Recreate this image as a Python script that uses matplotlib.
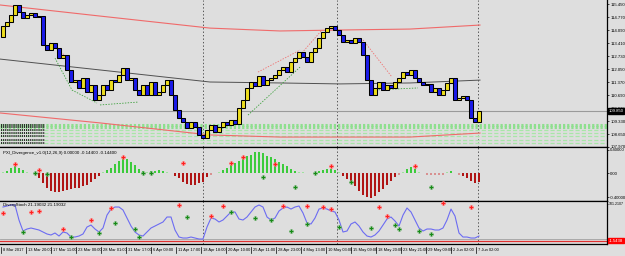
import matplotlib
matplotlib.use("Agg")
import matplotlib.pyplot as plt
import matplotlib.transforms as mtransforms
import numpy as np

plt.rcParams["font.family"] = ["Liberation Sans", "DejaVu Sans"]
plt.rcParams["lines.scale_dashes"] = False

# price bars (close of each bar, open = previous close)
first_open = 113.75
closes = [114.30, 114.51, 114.87, 115.40, 115.03, 114.72, 114.87, 114.98, 114.77, 114.82,
          113.31, 113.04, 113.41, 113.15, 112.63, 112.78, 112.00, 111.37, 111.47, 111.06,
          111.58, 110.85, 111.21, 110.43, 110.69, 111.21, 110.95, 111.47, 111.37, 111.74,
          112.10, 111.47, 111.58, 110.95, 110.69, 111.21, 110.69, 111.37, 110.69, 110.85,
          111.21, 111.47, 110.69, 109.90, 109.49, 109.28, 108.96, 109.28, 109.02, 108.60,
          108.44, 108.86, 109.12, 108.75, 109.02, 109.28, 109.12, 109.38, 109.17, 110.01,
          110.43, 111.06, 111.37, 111.16, 111.68, 111.21, 111.47, 111.58, 111.74, 112.00,
          112.15, 111.89, 112.42, 112.63, 112.94, 112.68, 112.42, 112.94, 113.15, 113.67,
          113.99, 114.19, 114.30, 114.09, 113.83, 113.46, 113.57, 113.41, 113.67, 113.46,
          112.78, 111.47, 110.69, 111.06, 111.37, 110.95, 111.21, 111.06, 111.37, 111.58,
          111.89, 111.74, 112.00, 111.58, 111.37, 111.21, 111.27, 110.85, 111.06, 110.69,
          110.95, 111.32, 111.58, 110.43, 110.53, 110.64, 110.43, 109.49, 109.28, 109.85]

# channel lines on the price chart
chan_x = [-0.75, 24.25, 51.75, 69.25, 84.25, 101.75, 119.25]
chan_upper = [115.40, 114.82, 114.19, 114.04, 114.09, 114.14, 114.35]
chan_mid = [112.57, 112.00, 111.37, 111.32, 111.27, 111.32, 111.47]
chan_lower = [109.75, 109.23, 108.60, 108.49, 108.49, 108.49, 108.70]

# divergence trend lines drawn on price
red_div_lines = [([11.75, 16.25], [113.41, 112.62]),
                 ([63.75, 74.25], [111.89, 113.04]),
                 ([74.25, 79.75], [112.78, 114.09]),
                 ([90.0, 97.25], [113.57, 111.63])]
green_div_lines = [([13.0, 17.25, 23.5], [112.62, 110.95, 110.27]),
                   ([24.25, 33.75], [110.17, 110.32]),
                   ([61.25, 74.25], [109.64, 112.15]),
                   ([92.5, 103.75], [110.95, 111.06])]

green_band_levels = [109.12, 109.00, 108.84, 108.68, 108.52, 108.36, 108.20]

price_ticks = [115.450, 114.770, 114.090, 113.410, 112.730, 112.050,
               111.370, 110.690, 110.010, 109.330, 108.650, 107.970]
last_price = 109.85

# PXI divergence histogram
hist_vals = [0.02, 0.05, 0.09, 0.13, 0.10, 0.06, 0.03, 0.01, -0.02, -0.08,
             -0.16, -0.24, -0.29, -0.32, -0.31, -0.30, -0.28, -0.27, -0.25, -0.24,
             -0.22, -0.19, -0.15, -0.10, -0.05, 0.02, 0.06, 0.10, 0.16, 0.22,
             0.26, 0.24, 0.20, 0.14, 0.08, 0.04, 0.03, 0.04, 0.05, 0.06,
             0.04, 0.02, 0.01, -0.04, -0.08, -0.14, -0.18, -0.20, -0.19, -0.17,
             -0.14, -0.06, -0.02, 0.01, 0.03, 0.06, 0.10, 0.14, 0.18, 0.22,
             0.26, 0.30, 0.32, 0.36, 0.37, 0.34, 0.30, 0.28, 0.24, 0.20,
             0.16, 0.12, 0.08, 0.05, 0.03, 0.02, 0.01, 0.01, 0.01, 0.04,
             0.06, 0.07, 0.08, 0.06, 0.02, -0.04, -0.10, -0.16, -0.22, -0.30,
             -0.36, -0.40, -0.42, -0.38, -0.32, -0.26, -0.20, -0.13, -0.06, -0.02,
             0.03, 0.08, 0.11, 0.07, 0.03, 0.01, -0.02, -0.03, -0.03, -0.02,
             -0.02, 0.02, 0.04, 0.01, -0.02, -0.04, -0.08, -0.12, -0.16, -0.14]
div_red_idx = [3, 9, 30, 45, 57, 60, 68, 82, 103]
div_red_val = [0.16, 0.06, 0.28, 0.18, 0.18, 0.28, 0.16, 0.13, 0.13]
div_green_idx = [8, 11, 35, 37, 65, 73, 78, 87, 107]
div_green_val = [0.01, -0.01, 0.01, 0.01, -0.06, -0.23, 0.01, -0.14, -0.23]

# DivergStoch
stoch_vals = [92.7, 95.5, 98.4, 98.4, 56, 25.3, 30.9, 33.7, 30.9, 28.1,
              22.5, 16.9, 14.1, 19.7, 11.2, 22.5, 19.7, 8.4, 8.4, 11.2,
              16.9, 36.5, 42, 30.9, 22.5, 33.7, 70, 87, 92.7, 92.7,
              84.3, 61.8, 39.3, 22.5, 14.1, 11.2, 22.5, 33.7, 39.3, 45,
              50.6, 64.6, 64.6, 28.1, 8.4, 5.6, 5.6, 8.4, 5.6, 2.8,
              2.8, 36.5, 61.8, 59, 50.6, 56.2, 67.4, 78.7, 78.7, 59,
              56.2, 64.6, 78.7, 92.7, 98.4, 92.7, 64.6, 56.2, 61.8, 81.5,
              89.9, 92.7, 87, 92.7, 95.5, 75.9, 47.8, 45, 61.8, 87,
              89.9, 87, 81.5, 78.7, 56.2, 22.5, 25.3, 45, 50.6, 39.3,
              22.5, 11.2, 8.4, 14.1, 25.3, 42, 59, 64.6, 53.4, 39.3,
              70, 89.9, 78.7, 56.2, 33.7, 25.3, 30.9, 30.9, 28.1, 28.1,
              33.7, 56.2, 87, 67.4, 19.7, 8.4, 8.4, 5.6, 5.6, 11.2]
st_red_idx = [0, 7, 9, 15, 22, 27, 44, 52, 55, 70, 76, 80, 82, 94, 96, 110, 117]
st_red_val = [75.9, 78.7, 81.5, 30.9, 56.2, 89.9, 98.4, 67.4, 95.5, 95.5, 95.5, 92.7, 87, 92.7, 67.4, 104, 92.7]
st_green_idx = [5, 17, 24, 28, 33, 34, 46, 57, 63, 67, 72, 76, 84, 92, 98, 99, 104, 107]
st_green_val = [22.5, 8.4, 19.7, 47.8, 30.9, 8.4, 64.6, 78.7, 61.8, 56.2, 25.3, 45, 36.5, 33.7, 42, 30.9, 25.3, 16.9]
stoch_level = -1.5

time_labels = ["8 Mar 2017", "13 Mar 20:00", "17 Mar 11:00", "23 Mar 00:00", "28 Mar 01:00",
               "31 Mar 17:00", "6 Apr 09:00", "11 Apr 17:00", "18 Apr 18:00", "20 Apr 10:00",
               "25 Apr 11:00", "28 Apr 23:00", "4 May 13:00", "10 May 03:00", "15 May 09:00",
               "18 May 20:00", "23 May 21:00", "29 May 09:00", "2 Jun 02:00", "7 Jun 02:00"]
label_bar_pos = [-0.5 + 6.25 * k for k in range(len(time_labels))]
session_lines = [50, 83.5, 118.75]

BG = "#DEDEDE"
TICK_FS = 3.1
W, H = 625, 256
fig = plt.figure(figsize=(W / 100, H / 100), dpi=100, facecolor=BG)


def rect(x0, y0, x1, y1):
    return [x0 / W, 1 - y1 / H, (x1 - x0) / W, (y1 - y0) / H]


ax_main = fig.add_axes(rect(0, 0, 607, 147))
ax_div = fig.add_axes(rect(0, 147, 607, 201))
ax_st = fig.add_axes(rect(0, 201, 607, 244))

for ax in (ax_main, ax_div, ax_st):
    ax.set_facecolor(BG)
    ax.set_xlim(-0.75, 151)
    ax.set_xticks([])
    ax.spines["left"].set_visible(False)
    for s in ("top", "bottom", "right"):
        ax.spines[s].set_color("black")
        ax.spines[s].set_linewidth(0.9)
    ax.yaxis.tick_right()
    ax.tick_params(axis="y", length=1.5, width=0.5, pad=0.8, labelsize=TICK_FS)
    for xv in session_lines:
        ax.axvline(xv, color="#404040", lw=0.6, ls=(0, (1, 1.5)), zorder=1)
ax_main.spines["top"].set_visible(False)

# ---- price panel
ax_main.set_ylim(107.97, 115.66)
ax_main.set_yticks(price_ticks)
ax_main.set_yticklabels(["%.3f" % v for v in price_ticks])

for i, lv in enumerate(green_band_levels):
    if i < 2:
        ax_main.axhline(lv, color="#8EDF8E", lw=2.2, ls=(0, (1.6, 1.4)), zorder=1)
    else:
        ax_main.axhline(lv, color="#A8E6A8", lw=0.9, ls=(0, (3, 1.5)), zorder=1)
    ax_main.hlines(lv, -0.5, 10.5, color="#2A2A2A", lw=1.4, ls=(0, (0.8, 0.7)), zorder=2)

ax_main.axhline(last_price, color="#9A9A9A", lw=0.8, zorder=1)
ax_main.plot(chan_x, chan_upper, color="#F06A6A", lw=0.8, zorder=2)
ax_main.plot(chan_x, chan_mid, color="#505050", lw=0.7, zorder=2)
ax_main.plot(chan_x, chan_lower, color="#F06A6A", lw=0.8, zorder=2)
for xs, ys in red_div_lines:
    ax_main.plot(xs, ys, color="#F07070", lw=0.6, ls=(0, (1, 1)), zorder=2)
for xs, ys in green_div_lines:
    ax_main.plot(xs, ys, color="#3CA03C", lw=0.6, ls=(0, (1, 1)), zorder=2)

bars = np.arange(len(closes))
opens = [first_open] + closes[:-1]
bottoms = np.minimum(opens, closes)
heights = np.abs(np.array(closes) - np.array(opens))
body_col = ["#ECDC1E" if c >= o else "#1A1AE8" for o, c in zip(opens, closes)]
ax_main.bar(bars, heights, bottom=bottoms, width=0.8, color=body_col,
            edgecolor="black", linewidth=0.75, zorder=3)

trans_main = mtransforms.blended_transform_factory(ax_main.transAxes, ax_main.transData)
ax_main.text(1.003, last_price, "%.3f" % last_price, transform=trans_main, fontsize=TICK_FS,
             color="white", va="center", ha="left", zorder=5,
             bbox=dict(boxstyle="square,pad=0.15", fc="black", ec="black"))

# ---- divergence panel
ax_div.set_ylim(-0.4675, 0.45)
ax_div.set_yticks([0.4, 0.0, -0.4])
ax_div.set_yticklabels(["0.40000", "0.00", "-0.40000"])
hist_col = []
for v in hist_vals:
    if v >= 0:
        hist_col.append("#3CCB3C" if v > 0.03 else "#9FE39F")
    else:
        hist_col.append("#B01515" if v < -0.03 else "#D89090")
ax_div.bar(bars, hist_vals, width=0.45, color=hist_col, zorder=3)
ax_div.plot(div_red_idx, div_red_val, ls="none", marker="P", ms=3.2, color="#FF2020",
            mec="#FF9090", mew=0.3, zorder=4)
ax_div.plot(div_green_idx, div_green_val, ls="none", marker="P", ms=3.2, color="#168A16",
            mec="#90C090", mew=0.3, zorder=4)
ax_div.text(0.005, 0.93, "PXI_Divergence_v1.0(12,26,9) 0.00000 -0.14400 -0.14400",
            transform=ax_div.transAxes, fontsize=3.2, va="top", ha="left", color="black")

# ---- stochastic panel
ax_st.set_ylim(-11.2, 109.6)
ax_st.set_yticks([101.21])
ax_st.set_yticklabels(["101.2107"], fontsize=2.6)
ax_st.tick_params(axis="y", pad=0.3, length=1.0)
ax_st.axhline(2.0, color="#A0A0A0", lw=0.6, zorder=1)
ax_st.axhline(stoch_level, color="#E03030", lw=0.9, zorder=2)
ax_st.plot(bars, stoch_vals, color="#6C6CF2", lw=0.8, zorder=3)
ax_st.plot(st_red_idx, st_red_val, ls="none", marker="P", ms=3.2, color="#FF2020",
           mec="#FF9090", mew=0.3, zorder=4, clip_on=False)
ax_st.plot(st_green_idx, st_green_val, ls="none", marker="P", ms=3.2, color="#168A16",
           mec="#90C090", mew=0.3, zorder=4)
ax_st.text(0.005, 0.95, "DivergStoch 21.19032 21.19032", transform=ax_st.transAxes,
           fontsize=3.2, va="top", ha="left", color="black")
trans_st = mtransforms.blended_transform_factory(ax_st.transAxes, ax_st.transData)
ax_st.text(1.003, stoch_level, "-1.5438", transform=trans_st, fontsize=TICK_FS, color="white",
           va="center", ha="left", bbox=dict(boxstyle="square,pad=0.15", fc="#FF0000", ec="#FF0000"))

# time axis
trans_x = mtransforms.blended_transform_factory(ax_st.transData, ax_st.transAxes)
for pos, lab in zip(label_bar_pos, time_labels):
    ax_st.plot([pos, pos], [-0.06, -0.2], color="black", lw=0.5, transform=trans_x, clip_on=False)
    ax_st.text(pos + 0.4, -0.14, lab, transform=trans_x, fontsize=2.9, va="center",
               ha="left", color="black")

fig.savefig("out.png", dpi=100, facecolor=BG)
